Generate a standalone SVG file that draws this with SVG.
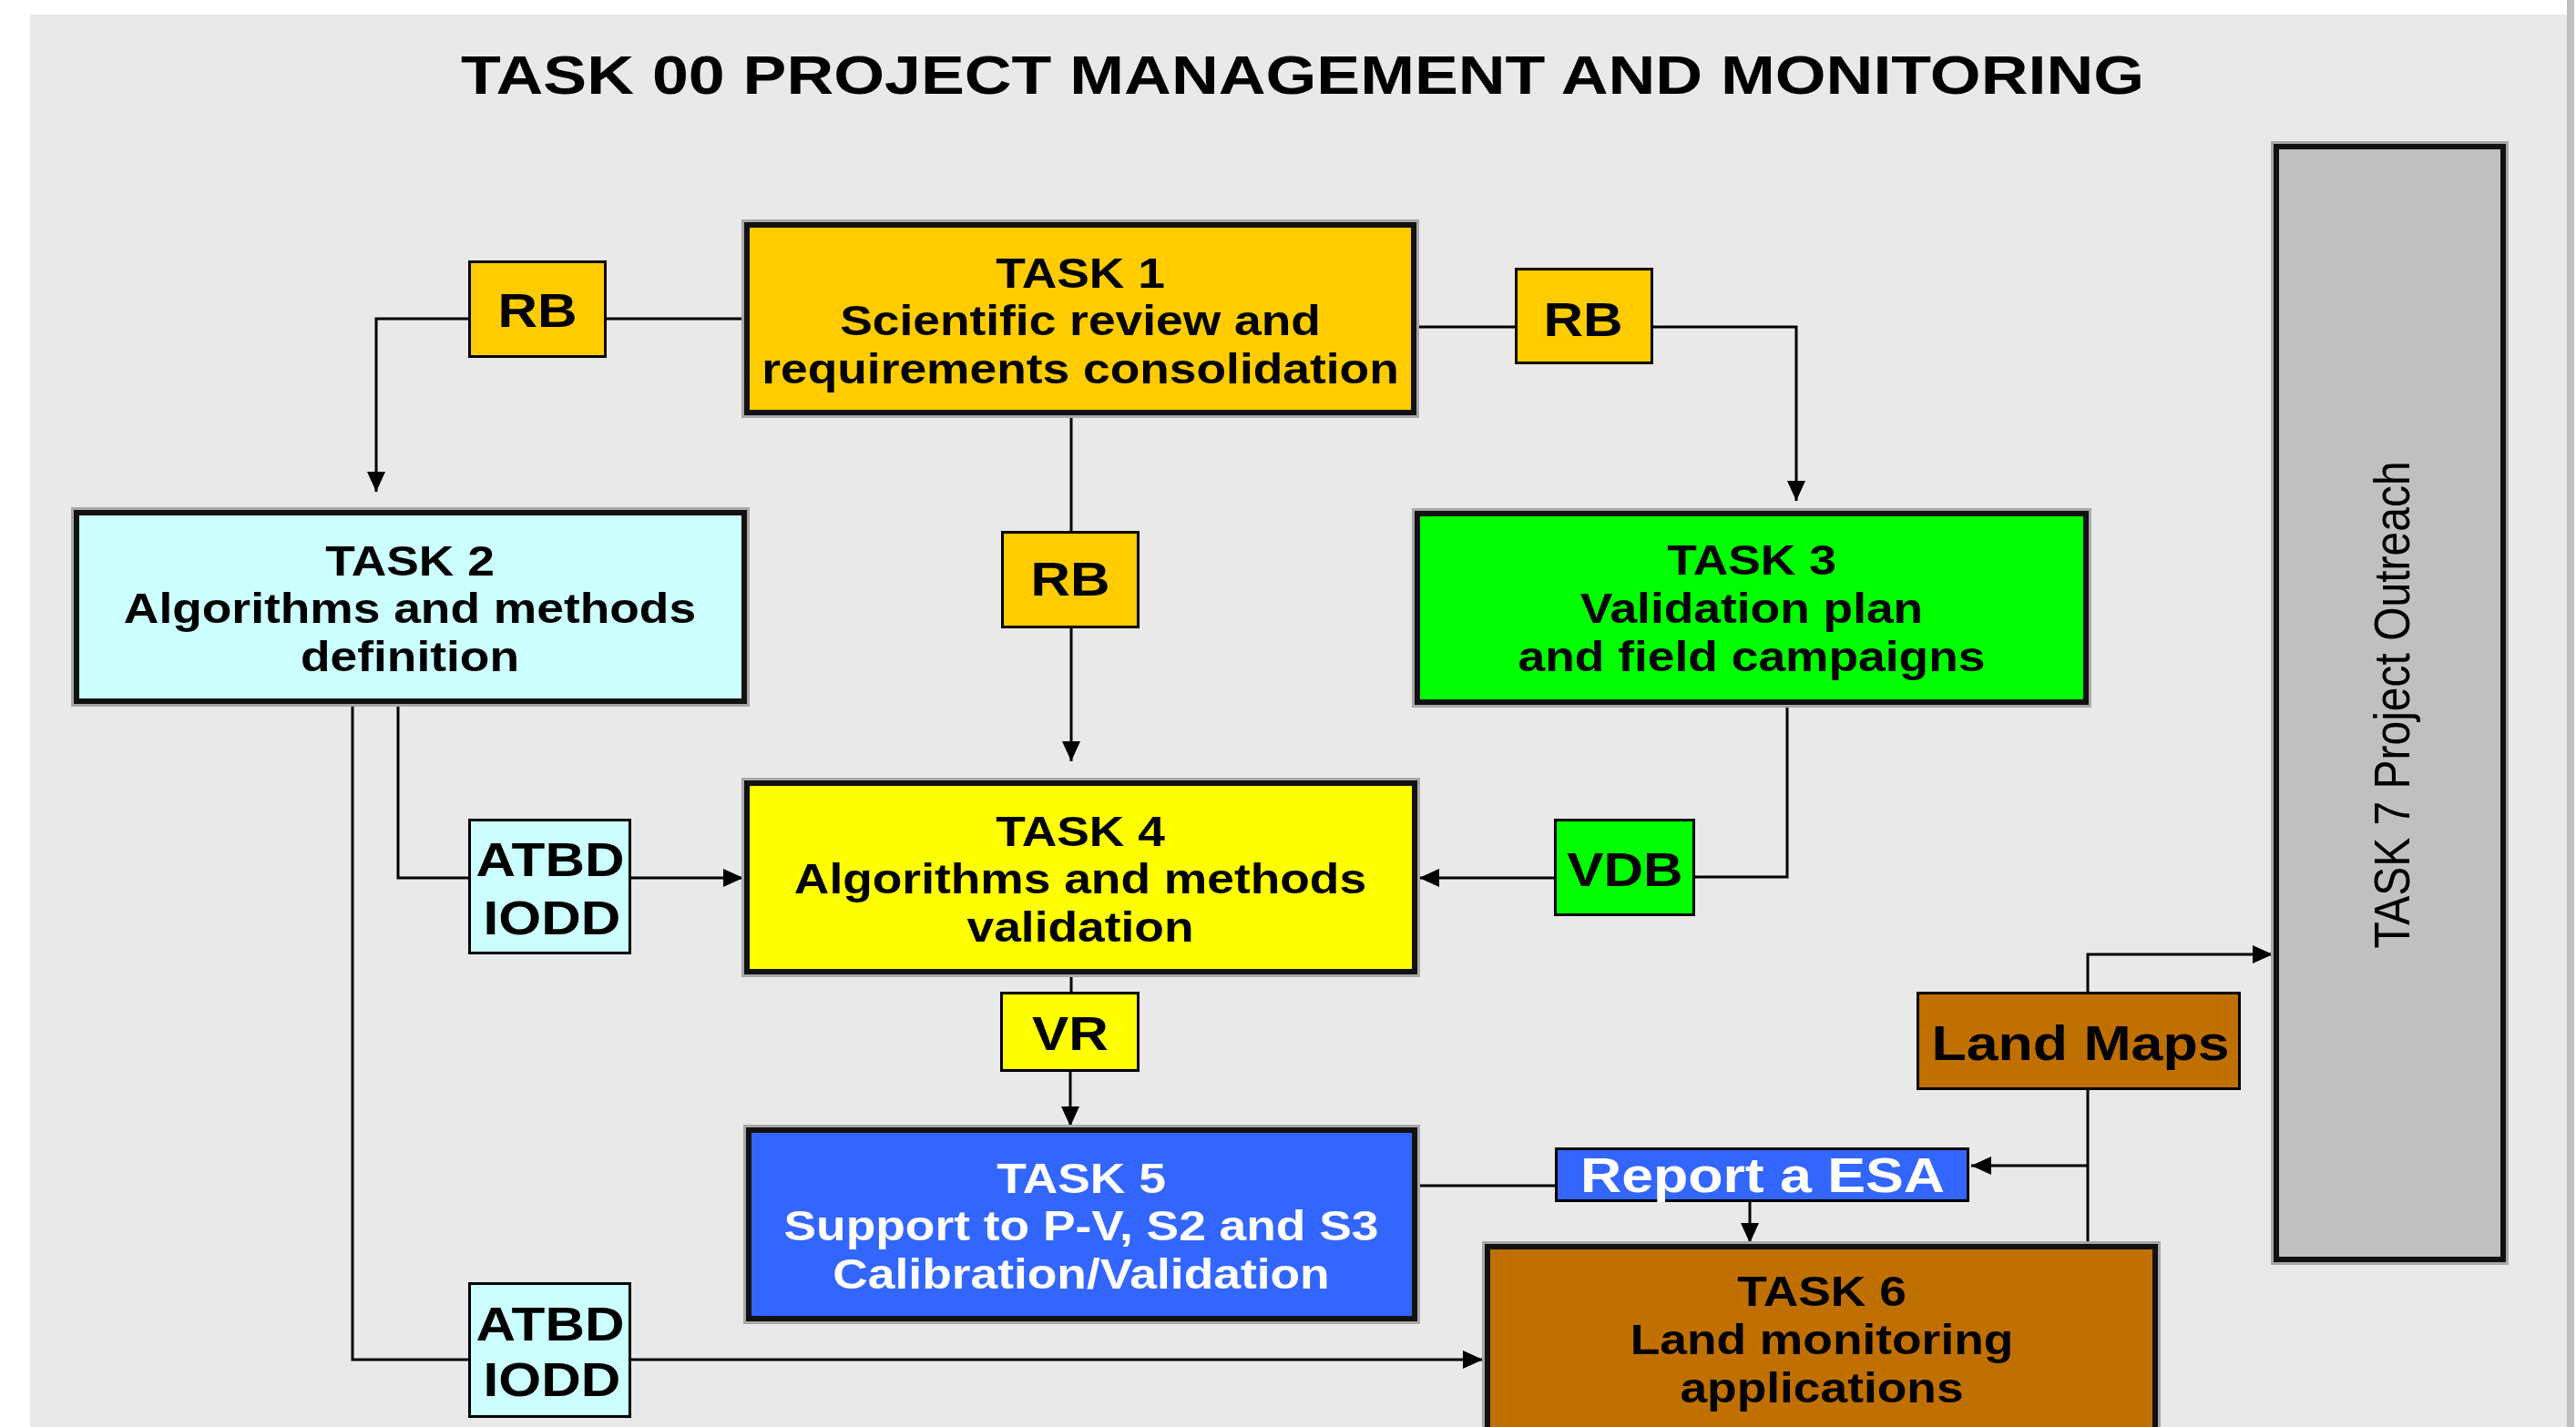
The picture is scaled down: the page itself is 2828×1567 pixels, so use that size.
<svg xmlns="http://www.w3.org/2000/svg" width="2828" height="1567" viewBox="0 0 2828 1567">
<style>
.task{stroke:#111;stroke-width:6}
.halo{fill:none;stroke:#A8A8A8;stroke-width:12}
.lbl{stroke:#000;stroke-width:3}
.t{font-family:"Liberation Sans",Arial,sans-serif;font-weight:bold;font-size:46px;text-anchor:middle;fill:#000}
.w{fill:#fff}
.l52{font-size:52px}
.l54{font-size:54px}
.conn path{fill:none;stroke:#000;stroke-width:3}
</style>
<defs>
<marker id="arr" markerUnits="userSpaceOnUse" markerWidth="22" markerHeight="22" refX="22" refY="11" orient="auto">
<path d="M0,1 L22,11 L0,21 z" fill="#000"/>
</marker>
</defs>
<rect x="0" y="0" width="2828" height="1567" fill="#fff"/>
<rect x="33" y="16" width="2785" height="1551" fill="#E9E9E9"/>
<rect x="2818" y="0" width="8" height="1567" fill="#C0C0C0"/>
<text class="t" x="1430" y="103" style="font-size:59px" textLength="1848" lengthAdjust="spacingAndGlyphs">TASK 00 PROJECT MANAGEMENT AND MONITORING</text>

<g id="connectors" class="conn">
<path d="M817,350 H666"/>
<path d="M514,350 H413 V540" marker-end="url(#arr)"/>
<path d="M1555,359 H1663"/>
<path d="M1815,359 H1972 V550" marker-end="url(#arr)"/>
<path d="M1176,456 V583"/>
<path d="M1176,690 V836" marker-end="url(#arr)"/>
<path d="M437,773 V964 H514"/>
<path d="M693,964 H816" marker-end="url(#arr)"/>
<path d="M387,773 V1493 H514"/>
<path d="M693,1493 H1628" marker-end="url(#arr)"/>
<path d="M1962,774 V963 H1861"/>
<path d="M1706,964 H1558" marker-end="url(#arr)"/>
<path d="M1176,1070 V1089"/>
<path d="M1175,1177 V1237" marker-end="url(#arr)"/>
<path d="M1556,1302 H1707"/>
<path d="M1921,1320 V1365" marker-end="url(#arr)"/>
<path d="M2292,1366 V1197"/>
<path d="M2292,1089 V1048 H2495" marker-end="url(#arr)"/>
<path d="M2292,1280 H2164" marker-end="url(#arr)"/>
</g>

<g id="task1">
<rect class="halo" x="820" y="247" width="732" height="206"/>
<rect class="task" x="820" y="247" width="732" height="206" fill="#FFCC00"/>
<text class="t" transform="matrix(1.16 0 0 1 1186 316)">TASK 1</text>
<text class="t" transform="matrix(1.16 0 0 1 1186 368)">Scientific review and</text>
<text class="t" transform="matrix(1.16 0 0 1 1186 421)">requirements consolidation</text>
</g>

<g id="task2">
<rect class="halo" x="84" y="563" width="733" height="207"/>
<rect class="task" x="84" y="563" width="733" height="207" fill="#CCFFFF"/>
<text class="t" transform="matrix(1.16 0 0 1 450 632)">TASK 2</text>
<text class="t" transform="matrix(1.16 0 0 1 450 684)">Algorithms and methods</text>
<text class="t" transform="matrix(1.16 0 0 1 450 737)">definition</text>
</g>

<g id="task3">
<rect class="halo" x="1556" y="564" width="734" height="207"/>
<rect class="task" x="1556" y="564" width="734" height="207" fill="#00FF00"/>
<text class="t" transform="matrix(1.16 0 0 1 1923 631)">TASK 3</text>
<text class="t" transform="matrix(1.16 0 0 1 1923 684)">Validation plan</text>
<text class="t" transform="matrix(1.16 0 0 1 1923 737)">and field campaigns</text>
</g>

<g id="task4">
<rect class="halo" x="820" y="860" width="733" height="207"/>
<rect class="task" x="820" y="860" width="733" height="207" fill="#FFFF00"/>
<text class="t" transform="matrix(1.16 0 0 1 1186 929)">TASK 4</text>
<text class="t" transform="matrix(1.16 0 0 1 1186 981)">Algorithms and methods</text>
<text class="t" transform="matrix(1.16 0 0 1 1186 1034)">validation</text>
</g>

<g id="task5">
<rect class="halo" x="822" y="1241" width="731" height="207"/>
<rect class="task" x="822" y="1241" width="731" height="207" fill="#3366FF"/>
<text class="t w" transform="matrix(1.16 0 0 1 1187 1310)">TASK 5</text>
<text class="t w" transform="matrix(1.16 0 0 1 1187 1362)">Support to P-V, S2 and S3</text>
<text class="t w" transform="matrix(1.16 0 0 1 1187 1415)">Calibration/Validation</text>
</g>

<g id="task6">
<rect class="halo" x="1633" y="1369" width="733" height="240"/>
<rect class="task" x="1633" y="1369" width="733" height="240" fill="#C07000"/>
<text class="t" transform="matrix(1.16 0 0 1 2000 1434)">TASK 6</text>
<text class="t" transform="matrix(1.16 0 0 1 2000 1487)">Land monitoring</text>
<text class="t" transform="matrix(1.16 0 0 1 2000 1540)">applications</text>
</g>

<g id="task7">
<rect class="halo" x="2499" y="161" width="249" height="1222"/>
<rect class="task" x="2499" y="161" width="249" height="1222" fill="#C0C0C0"/>
<text class="t" style="font-weight:normal;font-size:48px" transform="translate(2645 774) scale(1.16 1) rotate(-90)">TASK 7 Project Outreach</text>
</g>

<g id="rb1">
<rect class="lbl" x="515.5" y="287.5" width="149" height="104" fill="#FFCC00"/>
<text class="t l52" transform="matrix(1.16 0 0 1 590 359)">RB</text>
</g>
<g id="rb2">
<rect class="lbl" x="1664.5" y="295.5" width="149" height="103" fill="#FFCC00"/>
<text class="t l52" transform="matrix(1.16 0 0 1 1738 369)">RB</text>
</g>
<g id="rb3">
<rect class="lbl" x="1100.5" y="584.5" width="149" height="104" fill="#FFCC00"/>
<text class="t l52" transform="matrix(1.16 0 0 1 1175 654)">RB</text>
</g>
<g id="atbd1">
<rect class="lbl" x="515.5" y="900.5" width="176" height="146" fill="#CCFFFF"/>
<text class="t l52" transform="matrix(1.16 0 0 1 604 962)">ATBD</text>
<text class="t l52" transform="matrix(1.16 0 0 1 606 1026)">IODD</text>
</g>
<g id="atbd2">
<rect class="lbl" x="515.5" y="1409.5" width="176" height="146" fill="#CCFFFF"/>
<text class="t l52" transform="matrix(1.16 0 0 1 604 1472)">ATBD</text>
<text class="t l52" transform="matrix(1.16 0 0 1 606 1533)">IODD</text>
</g>
<g id="vdb">
<rect class="lbl" x="1707.5" y="900.5" width="152" height="104" fill="#00FF00"/>
<text class="t l52" transform="matrix(1.16 0 0 1 1784 973)">VDB</text>
</g>
<g id="vr">
<rect class="lbl" x="1099.5" y="1090.5" width="150" height="85" fill="#FFFF00"/>
<text class="t l52" transform="matrix(1.16 0 0 1 1175 1153)">VR</text>
</g>
<g id="report">
<rect class="lbl" x="1708.5" y="1261.5" width="452" height="57" fill="#3366FF"/>
<text class="t w l54" transform="matrix(1.16 0 0 1 1935 1309)">Report a ESA</text>
</g>
<g id="landmaps">
<rect class="lbl" x="2105.5" y="1090.5" width="353" height="105" fill="#C07000"/>
<text class="t l54" transform="matrix(1.16 0 0 1 2284 1164)">Land Maps</text>
</g>
</svg>
